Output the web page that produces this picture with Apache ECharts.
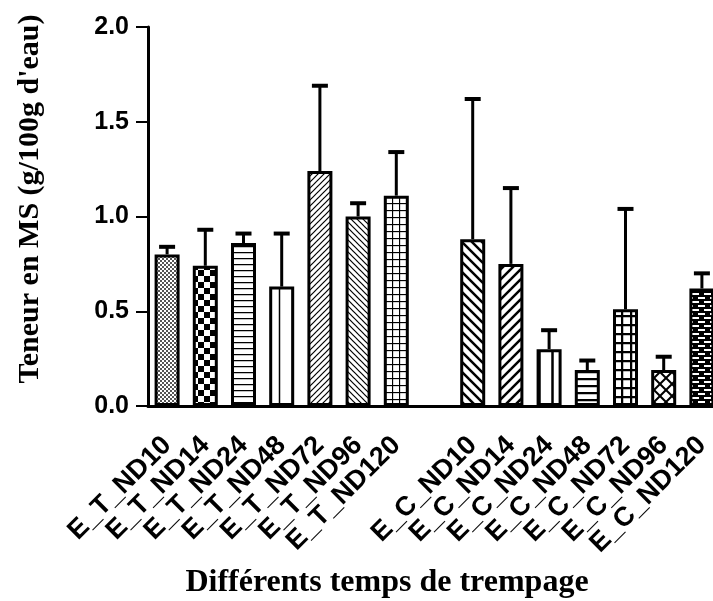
<!DOCTYPE html>
<html>
<head>
<meta charset="utf-8">
<script src="https://cdn.jsdelivr.net/npm/echarts@6/dist/echarts.min.js"></script>
<style>
  html, body { margin: 0; padding: 0; background: #fff; overflow: hidden; }
  #chart { width: 721px; height: 601px; }
</style>
</head>
<body>
<div id="chart"></div>
<script>
// categories (the empty one is the gap between the two groups)
const categories = [
  'E_T_ND10', 'E_T_ND14', 'E_T_ND24', 'E_T_ND48', 'E_T_ND72', 'E_T_ND96', 'E_T_ND120',
  '',
  'E_C_ND10', 'E_C_ND14', 'E_C_ND24', 'E_C_ND48', 'E_C_ND72', 'E_C_ND96', 'E_C_ND120'
]
// mean values
const means = [0.80, 0.74, 0.86, 0.63, 1.24, 1.00, 1.11, null, 0.88, 0.75, 0.30, 0.19, 0.51, 0.19, 0.62]
// upper error (SD)
const errors = [0.04, 0.19, 0.05, 0.28, 0.45, 0.07, 0.23, null, 0.74, 0.40, 0.10, 0.05, 0.53, 0.07, 0.08]
// fill pattern for each bar
const patterns = [
  'fineCheck', 'check', 'hline', 'vline', 'diagFineUp', 'diagFineDown', 'grid',
  null,
  'diagWideDown', 'diagWideUp', 'vlineWide', 'hlineWide', 'gridWide', 'xhatch', 'brick'
]
const yTicks = [0, 0.5, 1.0, 1.5, 2.0]

function tile(w, h, draw) {
  const c = document.createElement('canvas')
  c.width = w
  c.height = h
  const ctx = c.getContext('2d')
  ctx.fillStyle = '#fff'
  ctx.fillRect(0, 0, w, h)
  ctx.strokeStyle = '#000'
  ctx.fillStyle = '#000'
  draw(ctx)
  return { image: c, repeat: 'repeat' }
}

function line(ctx, x1, y1, x2, y2, lw) {
  ctx.lineWidth = lw
  ctx.beginPath()
  ctx.moveTo(x1, y1)
  ctx.lineTo(x2, y2)
  ctx.stroke()
}

const makers = {
  fineCheck: () => tile(4, 4, ctx => {
    ctx.fillStyle = '#555'
    ctx.fillRect(0, 0, 2, 2)
    ctx.fillRect(2, 2, 2, 2)
  }),
  check: () => tile(12, 12, ctx => {
    ctx.fillRect(0, 0, 6, 6)
    ctx.fillRect(6, 6, 6, 6)
  }),
  hline: () => tile(6, 6, ctx => line(ctx, 0, 0.5, 6, 0.5, 1.5)),
  vline: () => tile(13, 6, ctx => line(ctx, 6.5, 0, 6.5, 6, 1.5)),
  diagFineUp: () => tile(6, 6, ctx => {
    line(ctx, -1, 7, 7, -1, 1.2)
    line(ctx, -1, 1, 1, -1, 1.2)
    line(ctx, 5, 7, 7, 5, 1.2)
  }),
  diagFineDown: () => tile(6, 6, ctx => {
    line(ctx, -1, -1, 7, 7, 1.2)
    line(ctx, 5, -1, 7, 1, 1.2)
    line(ctx, -1, 5, 1, 7, 1.2)
  }),
  grid: () => tile(7, 7, ctx => {
    line(ctx, 0.5, 0, 0.5, 7, 1.3)
    line(ctx, 0, 0.5, 7, 0.5, 1.3)
  }),
  diagWideDown: () => tile(10, 10, ctx => {
    line(ctx, -2, -2, 12, 12, 2.5)
    line(ctx, 8, -2, 12, 2, 2.5)
    line(ctx, -2, 8, 2, 12, 2.5)
  }),
  diagWideUp: () => tile(10, 10, ctx => {
    line(ctx, -2, 12, 12, -2, 2.5)
    line(ctx, -2, 2, 2, -2, 2.5)
    line(ctx, 8, 12, 12, 8, 2.5)
  }),
  vlineWide: () => tile(13, 6, ctx => line(ctx, 6.5, 0, 6.5, 6, 2.5)),
  hlineWide: () => tile(6, 7, ctx => line(ctx, 0, 1, 6, 1, 2.5)),
  gridWide: () => tile(9, 9, ctx => {
    line(ctx, 1, 0, 1, 9, 2.5)
    line(ctx, 0, 1, 9, 1, 2.5)
  }),
  xhatch: () => tile(12, 12, ctx => {
    line(ctx, -1, -1, 13, 13, 2)
    line(ctx, -1, 13, 13, -1, 2)
  }),
  brick: () => tile(12, 8, ctx => {
    ctx.fillRect(0, 0, 12, 8)
    ctx.fillStyle = '#fff'
    ctx.fillRect(2, 1, 7, 2)
    ctx.fillRect(8, 5, 7, 2)
    ctx.fillRect(-4, 5, 7, 2)
  })
}

const barData = means.map((v, i) => {
  if (v === null) return null
  return {
    value: v,
    itemStyle: { color: makers[patterns[i]]() }
  }
})

const errData = means.map((v, i) => [i, v, v === null ? null : v + errors[i]])

const chart = echarts.init(document.getElementById('chart'), null, { renderer: 'canvas' })

const option = {
  animation: false,
  backgroundColor: '#fff',
  grid: { left: 148, right: 0, top: 27, bottom: 195, outerBoundsMode: 'none' },
  xAxis: {
    type: 'category',
    data: categories,
    axisLine: { lineStyle: { color: '#000', width: 3 } },
    axisTick: { alignWithLabel: true, length: 8, lineStyle: { color: '#000', width: 2 } },
    axisLabel: {
      interval: 0,
      rotate: 45,
      margin: 35,
      color: '#000',
      fontFamily: 'Liberation Sans, Arial, sans-serif',
      fontWeight: 'bold',
      fontSize: 27
    }
  },
  yAxis: {
    type: 'value',
    min: 0,
    max: 2,
    interval: 0.5,
    axisLine: { show: true, lineStyle: { color: '#000', width: 3 } },
    axisTick: { show: true, length: 12, lineStyle: { color: '#000', width: 2 } },
    splitLine: { show: false },
    axisLabel: {
      margin: 19,
      color: '#000',
      fontFamily: 'Liberation Sans, Arial, sans-serif',
      fontWeight: 'bold',
      fontSize: 25,
      formatter: v => (yTicks.indexOf(v) >= 0 ? v.toFixed(1) : '')
    }
  },
  graphic: [
    {
      type: 'text',
      x: 387,
      y: 583,
      style: {
        text: 'Différents temps de trempage',
        fill: '#000',
        font: 'bold 32px "Liberation Serif", "Times New Roman", serif',
        align: 'center',
        verticalAlign: 'middle'
      }
    },
    {
      type: 'text',
      x: 30,
      y: 199,
      rotation: Math.PI / 2,
      style: {
        text: "Teneur en MS (g/100g d'eau)",
        fill: '#000',
        font: 'bold 30px "Liberation Serif", "Times New Roman", serif',
        align: 'center',
        verticalAlign: 'middle'
      }
    }
  ],
  series: [
    {
      type: 'bar',
      data: barData,
      barWidth: 25,
      itemStyle: { borderColor: '#000', borderWidth: 3 },
      z: 2
    },
    {
      type: 'custom',
      data: errData,
      z: 1,
      renderItem(params, api) {
        const hi = api.value(2)
        if (hi === null || isNaN(hi)) return null
        const top = api.coord([api.value(0), hi])
        const base = api.coord([api.value(0), api.value(1)])
        const half = 8
        return {
          type: 'group',
          children: [
            {
              type: 'line',
              shape: { x1: top[0], y1: top[1], x2: base[0], y2: base[1] },
              style: { stroke: '#000', lineWidth: 3 }
            },
            {
              type: 'line',
              shape: { x1: top[0] - half, y1: top[1], x2: top[0] + half, y2: top[1] },
              style: { stroke: '#000', lineWidth: 4 }
            }
          ]
        }
      }
    }
  ]
}

chart.setOption(option)
</script>
</body>
</html>
